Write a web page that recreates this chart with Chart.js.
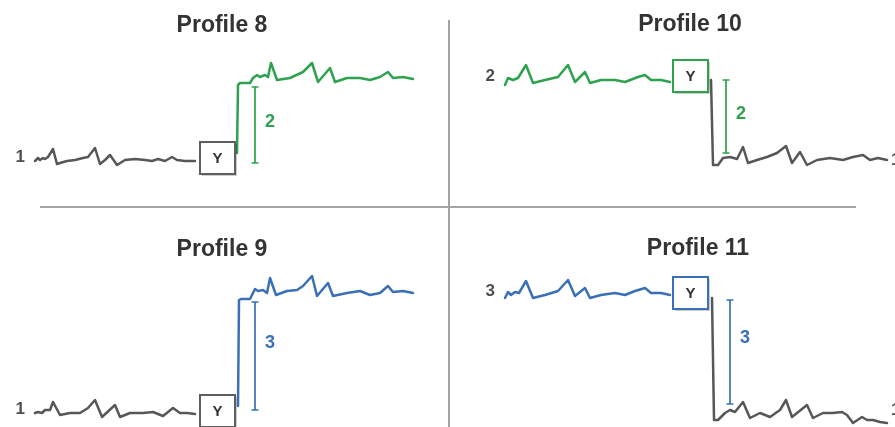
<!DOCTYPE html>
<html>
<head>
<meta charset="utf-8">
<script src="https://cdn.jsdelivr.net/npm/chart.js@4.4.1/dist/chart.umd.min.js"></script>
<style>
  html,body{margin:0;padding:0;background:#fff;}
  #wrap{position:relative;width:895px;height:427px;overflow:hidden;background:#fff;}
  canvas{position:absolute;}
  .rule{position:absolute;background:#a3a3a3;}
</style>
</head>
<body>
<div id="wrap">
  <div class="rule" style="left:40px;top:206px;width:816px;height:1.5px;"></div>
  <div class="rule" style="left:448px;top:20px;width:1.5px;height:407px;"></div>
  <canvas id="c0" width="448" height="213" style="left:0;top:0;"></canvas>
  <canvas id="c1" width="447" height="213" style="left:448px;top:0;"></canvas>
  <canvas id="c2" width="448" height="214" style="left:0;top:213px;"></canvas>
  <canvas id="c3" width="447" height="214" style="left:448px;top:213px;"></canvas>
</div>
<script>
// ---------- DATA ----------
const titles = ['Profile 8', 'Profile 10', 'Profile 9', 'Profile 11'];
const startLabels = ['1', '2', '1', '3'];
const endLabels = ['', '1', '', '1'];
const stepLabels = ['2', '2', '3', '3'];

// Profile 8 : gray trace (level 1), then rise to green trace (level 2)
const p8PreT  = [0,3,5,8,10,13,18,22,25,32,40,48,53,60,65,70,75,82,90,100,110,117,123,130,137,142,150,160];
const p8PreV  = [52,55,53,55,54,56,64,49,50,52,53,55,56,65,49,53,58,48,53,54,53,52,54,52,56,53,52,52];
const p8PostT = [202,203,205,215,218,222,225,230,233,236,242,255,268,277,283,295,300,312,325,335,345,353,358,368,378];
const p8PostV = [60,128,130,130,135,138,136,138,136,150,133,135,141,150,131,145,131,135,135,133,136,141,135,136,134];

// Profile 10 : green trace (level 2), then drop to gray trace (level 1)
const p10PreT  = [0,3,8,13,21,28,40,53,63,70,80,85,96,110,120,133,140,146,156,165];
const p10PreV  = [128,135,133,135,148,130,133,136,148,131,141,130,133,133,131,136,138,133,133,131];
const p10PostT = [206,208,213,218,225,232,238,243,252,262,272,281,287,295,302,312,325,338,348,358,365,373,382];
const p10PostV = [133,48,48,55,56,54,66,50,53,56,60,67,50,61,48,53,55,53,56,58,53,55,53];

// Profile 9 : gray trace (level 1), then rise to blue trace (level 3)
const p9PreT  = [0,3,7,10,15,18,25,35,45,53,60,67,80,85,95,108,118,128,138,145,152,160];
const p9PreV  = [14,15,14,17,17,25,12,14,14,19,27,10,22,10,14,14,15,11,19,14,14,13];
const p9PostT = [203,204,206,215,217,220,223,228,232,235,241,252,262,268,277,282,293,298,312,325,335,345,353,358,368,378];
const p9PostV = [21,127,128,128,132,138,136,137,134,149,132,136,137,141,151,131,144,131,134,136,132,134,141,135,136,134];

// Profile 11 : blue trace (level 3), then drop to gray trace (level 1)
const p11PreT  = [0,3,6,10,14,21,28,40,53,63,70,80,85,96,110,120,130,140,146,156,165];
const p11PreV  = [129,135,132,135,134,146,129,132,136,147,131,139,129,132,134,132,136,139,134,134,132];
const p11PostT = [207,209,213,220,225,230,238,245,255,265,275,281,287,302,308,318,328,337,342,348,357,362,368,375,382];
const p11PostV = [129,7,7,14,17,15,25,9,14,10,17,27,10,22,9,14,14,15,12,4,10,7,7,5,4];

const startLevel = [52, 133, 14, 132];
const endLevel   = [134, 53, 134, 17];
const boxT = [182.5, 185.5, 182.5, 185.5];
const boxV = [55, 137, 16, 134];
const barT = [220, 221, 220, 225];
const barLow  = [50, 60, 17, 23];
const barHigh = [126, 133, 125, 127];
const stepLabelV = [91, 99, 84, 89];

// ---------- STYLE / LAYOUT ----------
const GRAY = '#575757', GREEN = '#2ea24e', BLUE = '#3a70b8';
const FONT = '"Liberation Sans", Arial, sans-serif';
const panels = [
  { canvas:'c0', pre:[p8PreT,p8PreV],   post:[p8PostT,p8PostV],   preColor:GRAY,  postColor:GREEN, accent:GREEN, xMin:-35, w:448, h:213, titleX:222, titleY:32 },
  { canvas:'c1', pre:[p10PreT,p10PreV], post:[p10PostT,p10PostV], preColor:GREEN, postColor:GRAY,  accent:GREEN, xMin:-57, w:447, h:213, titleX:242, titleY:31 },
  { canvas:'c2', pre:[p9PreT,p9PreV],   post:[p9PostT,p9PostV],   preColor:GRAY,  postColor:BLUE,  accent:BLUE,  xMin:-35, w:448, h:214, titleX:222, titleY:43 },
  { canvas:'c3', pre:[p11PreT,p11PreV], post:[p11PostT,p11PostV], preColor:BLUE,  postColor:GRAY,  accent:BLUE,  xMin:-57, w:447, h:214, titleX:250, titleY:42 }
];

function pts(t, v){ return t.map((tt,i)=>({x:tt, y:v[i]})); }

const annot = {
  id: 'annot',
  afterDatasetsDraw(chart, args, o) {
    const i = o.idx, P = panels[i];
    const ctx = chart.ctx, xs = chart.scales.x, ys = chart.scales.y;
    ctx.save();
    // title
    ctx.fillStyle = '#333';
    ctx.font = 'bold 23px ' + FONT;
    ctx.textAlign = 'center';
    ctx.textBaseline = 'alphabetic';
    ctx.fillText(titles[i], P.titleX, P.titleY);

    // start label
    ctx.fillStyle = '#4f4f4f';
    ctx.font = 'bold 17px ' + FONT;
    ctx.textAlign = 'right';
    ctx.textBaseline = 'middle';
    ctx.fillText(startLabels[i], xs.getPixelForValue(P.pre[0][0]) - 10, ys.getPixelForValue(startLevel[i]) - 4);
    // end label
    if (endLabels[i]) {
      const tl = P.post[0][P.post[0].length - 1];
      ctx.textAlign = 'left';
      ctx.fillText(endLabels[i], xs.getPixelForValue(tl) + 4, ys.getPixelForValue(endLevel[i]));
    }

    // error bar
    const bx = xs.getPixelForValue(barT[i]);
    const by1 = ys.getPixelForValue(barHigh[i]), by2 = ys.getPixelForValue(barLow[i]);
    ctx.strokeStyle = P.accent;
    ctx.lineWidth = 1.7;
    ctx.beginPath();
    ctx.moveTo(bx, by1); ctx.lineTo(bx, by2);
    ctx.moveTo(bx - 3.5, by1); ctx.lineTo(bx + 3.5, by1);
    ctx.moveTo(bx - 3.5, by2); ctx.lineTo(bx + 3.5, by2);
    ctx.stroke();
    ctx.fillStyle = P.accent;
    ctx.font = 'bold 18px ' + FONT;
    ctx.textAlign = 'left';
    ctx.textBaseline = 'middle';
    ctx.fillText(stepLabels[i], bx + 10, ys.getPixelForValue(stepLabelV[i]));

    // Y box
    const cx = xs.getPixelForValue(boxT[i]), cy = ys.getPixelForValue(boxV[i]);
    const bw = 35, bh = 32;
    const l = cx - bw/2, t = cy - bh/2;
    ctx.fillStyle = 'rgba(0,0,0,0.2)';
    ctx.fillRect(l + 2, t + 2, bw, bh);
    ctx.fillStyle = '#fff';
    ctx.fillRect(l, t, bw, bh);
    ctx.strokeStyle = P.preColor === GRAY ? '#5f5f5f' : P.preColor;
    ctx.lineWidth = 2;
    ctx.strokeRect(l, t, bw, bh);
    ctx.fillStyle = '#333';
    ctx.font = 'bold 15px ' + FONT;
    ctx.textAlign = 'center';
    ctx.textBaseline = 'middle';
    ctx.fillText('Y', cx, cy + 1);
    ctx.restore();
  }
};

panels.forEach((P, i) => {
  new Chart(document.getElementById(P.canvas), {
    type: 'scatter',
    data: {
      datasets: [
        { data: pts(P.pre[0], P.pre[1]), borderColor: P.preColor, showLine: true },
        { data: pts(P.post[0], P.post[1]), borderColor: P.postColor, showLine: true }
      ]
    },
    options: {
      responsive: false,
      animation: false,
      events: [],
      layout: { padding: 0 },
      elements: {
        point: { radius: 0 },
        line: { borderWidth: 2.5, tension: 0, borderJoinStyle: 'round', borderCapStyle: 'round', fill: false }
      },
      scales: {
        x: { type: 'linear', display: false, min: P.xMin, max: P.xMin + P.w },
        y: { type: 'linear', display: false, min: 0, max: P.h }
      },
      plugins: {
        legend: { display: false },
        tooltip: { enabled: false },
        title: { display: false },
        annot: { idx: i }
      }
    },
    plugins: [annot]
  });
});
</script>
</body>
</html>
